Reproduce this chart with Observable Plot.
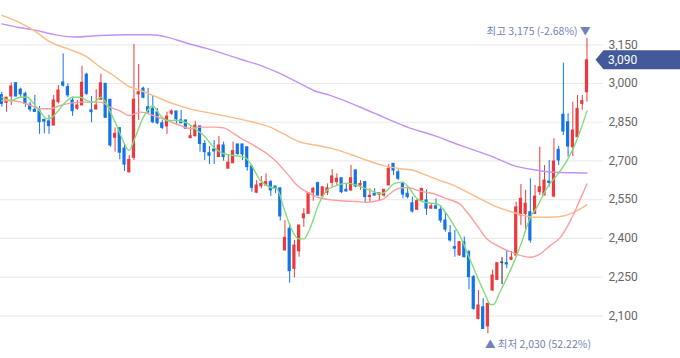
<!DOCTYPE html>
<html><head><meta charset="utf-8">
<script src="https://cdn.jsdelivr.net/npm/d3@7"></script>
<script src="https://cdn.jsdelivr.net/npm/@observablehq/plot@0.6"></script>
<style>
html,body{margin:0;padding:0;background:#fff;}
#chart svg{display:block;}
</style></head><body><div id="chart"></div>
<script>
// Daily candles (index, open, high, low, close)
const opens  = [2955,2925,2950,3001,2976,2960,2918,2898,2893,2859,2853,2837,2928,3004,2986,2934,2902,2915,3034,2896,2899,2937,2999,2937,2790,2827,2748,2656,2712,2958,2980,2908,2902,2888,2846,2834,2883,2892,2857,2857,2788,2796,2834,2766,2730,2744,2715,2760,2670,2691,2764,2764,2753,2679,2577,2602,2605,2618,2601,2594,2353,2437,2282,2350,2478,2495,2577,2614,2563,2577,2615,2618,2633,2588,2586,2663,2605,2618,2560,2573,2569,2566,2605,2689,2656,2611,2573,2536,2511,2547,2547,2515,2524,2511,2469,2420,2366,2334,2385,2346,2250,2088,2133,2059,2198,2239,2306,2304,2317,2334,2489,2495,2501,2495,2579,2566,2620,2562,2743,2879,2850,2753,2792,2921,2966];
const highs  = [2966,2947,3003,3004,2982,2966,2927,2954,2911,2862,2876,2954,2992,3115,2999,2947,2934,3067,3040,2950,2976,3036,2999,2937,2828,2827,2768,2721,3151,3074,2986,2981,2951,2903,2857,2889,2898,2892,2896,2857,2831,2854,2834,2779,2756,2779,2795,2773,2724,2773,2764,2764,2753,2679,2624,2640,2650,2624,2601,2594,2469,2456,2392,2450,2515,2575,2598,2618,2598,2611,2666,2650,2633,2611,2682,2666,2624,2621,2592,2593,2575,2588,2686,2689,2666,2618,2598,2560,2553,2592,2588,2534,2553,2527,2501,2450,2431,2388,2405,2353,2256,2198,2166,2149,2276,2304,2325,2353,2349,2540,2609,2586,2631,2605,2753,2682,2702,2786,2756,3079,2883,2928,2954,2954,3175];
const lows   = [2908,2889,2915,2947,2947,2908,2889,2889,2803,2805,2803,2837,2921,2986,2945,2873,2896,2915,2954,2848,2899,2937,2867,2753,2734,2704,2659,2653,2702,2857,2941,2880,2844,2841,2821,2803,2876,2837,2844,2825,2788,2792,2734,2702,2686,2686,2715,2699,2670,2690,2721,2702,2660,2579,2573,2592,2605,2563,2573,2467,2353,2226,2247,2327,2443,2493,2544,2563,2562,2566,2598,2605,2573,2579,2582,2596,2586,2539,2542,2563,2542,2560,2605,2644,2624,2553,2553,2498,2508,2544,2489,2513,2512,2459,2424,2385,2327,2330,2325,2201,2121,2084,2049,2030,2194,2239,2221,2282,2314,2330,2450,2428,2381,2493,2566,2566,2598,2557,2682,2799,2715,2717,2788,2896,2928];
const closes = [2921,2945,2989,2950,2958,2921,2899,2890,2850,2852,2835,2934,2973,2992,2954,2893,2915,3003,2960,2889,2915,3001,2867,2760,2805,2732,2686,2704,2937,2966,2945,2889,2850,2846,2828,2872,2892,2861,2846,2825,2796,2837,2766,2734,2720,2737,2760,2715,2693,2738,2727,2725,2676,2596,2605,2611,2618,2586,2592,2485,2402,2273,2372,2450,2493,2575,2592,2566,2598,2594,2640,2631,2579,2582,2633,2601,2611,2560,2565,2566,2575,2588,2670,2663,2631,2570,2560,2504,2544,2592,2515,2524,2515,2469,2434,2392,2360,2385,2327,2250,2127,2140,2049,2146,2256,2304,2306,2299,2325,2520,2553,2534,2392,2562,2598,2624,2615,2698,2702,2814,2756,2818,2902,2932,3090];

// Moving averages: [candle index, value]
const ma5   = [[0,2947],[1.8,2934],[4,2947],[5.4,2947],[6.7,2923],[8.2,2889],[9.6,2863],[10.7,2870],[12,2896],[13.5,2928],[15,2947],[16.7,2947],[18,2934],[19.5,2928],[21,2947],[22,2928],[23,2889],[24.5,2831],[25.5,2786],[27,2741],[28,2779],[30,2870],[32,2914],[33.6,2876],[35,2857],[37.2,2857],[39.3,2847],[41.4,2818],[42.8,2799],[44.9,2753],[47,2728],[49.2,2721],[51.6,2713],[52.7,2689],[54.8,2624],[56.9,2598],[58.3,2592],[59.7,2521],[61.2,2443],[62.9,2398],[64,2398],[65.4,2443],[67.2,2534],[68.9,2586],[71,2605],[73.2,2614],[75.3,2605],[76.7,2596],[78.1,2586],[80.2,2573],[81.7,2586],[83,2611],[84.8,2618],[86.2,2598],[88,2553],[90.1,2538],[92.2,2534],[94,2501],[95.8,2450],[97.2,2405],[99.3,2314],[101.1,2237],[102.5,2179],[103.5,2144],[104.2,2144],[105.7,2198],[107.1,2250],[108.5,2307],[109.9,2372],[112,2481],[113.4,2521],[115.6,2598],[117.3,2637],[118.4,2663],[119.8,2702],[121.2,2753],[122.6,2818],[124,2893]];
const ma20  = [[0,2934],[1.8,2934],[4,2928],[6.1,2915],[8.2,2902],[10.3,2902],[12.4,2915],[14.6,2924],[16.7,2928],[18.8,2928],[20.9,2928],[23,2908],[25.1,2893],[26.9,2876],[29.4,2889],[32.1,2876],[35,2857],[37.9,2837],[40,2825],[42.1,2831],[44.9,2831],[47,2828],[49.2,2805],[50.6,2789],[53.4,2760],[56.2,2728],[58.3,2695],[60.5,2650],[62.6,2605],[64.7,2579],[66.8,2560],[69,2551],[71.1,2547],[73.2,2544],[75.3,2543],[77.1,2540],[78.8,2543],[80.9,2553],[82.4,2575],[83.8,2592],[85.9,2597],[88.7,2583],[91.5,2573],[94.4,2553],[97.2,2531],[98.6,2501],[100.7,2450],[102.8,2398],[105,2372],[107.1,2353],[109.9,2334],[112,2327],[114.1,2340],[116.2,2372],[118.4,2405],[120.5,2469],[122.6,2553],[124,2611]];
const ma60  = [[0,3264],[4,3234],[6.8,3206],[10.3,3160],[13.9,3135],[18.1,3102],[20.9,3063],[23.7,3031],[26.6,2992],[29.4,2973],[32.9,2947],[36.4,2921],[40.7,2898],[44.9,2883],[49.2,2867],[53.4,2850],[56.9,2831],[59.7,2805],[63.3,2773],[66.8,2760],[70.3,2747],[73.9,2725],[77.4,2702],[80.9,2682],[84.5,2670],[87.3,2663],[90.1,2644],[92.9,2624],[95.8,2605],[98.6,2579],[101.4,2553],[104.2,2527],[107.1,2508],[109.9,2493],[112.7,2482],[115.6,2482],[118.4,2485],[121.2,2501],[124,2530]];
const ma120 = [[0,3231],[3.3,3218],[6.8,3208],[10.3,3193],[15.3,3180],[20.9,3186],[26.6,3189],[31.5,3189],[35,3180],[39.3,3156],[43.5,3135],[47.8,3111],[50.6,3094],[54.8,3070],[59,3038],[63.3,2999],[66.1,2973],[69.6,2954],[76,2908],[81.7,2863],[85.9,2831],[91.5,2799],[97.2,2760],[104.2,2715],[108.5,2682],[112.7,2666],[116.9,2656],[121.2,2654],[124,2653]];

const yTicks = [2100, 2250, 2400, 2550, 2700, 2850, 3000, 3150];
const highLabel = "최고 3,175 (-2.68%) ▼";
const lowLabel  = "▲ 최저 2,030 (52.22%)";

const candles = opens.map((o, i) => ({i, o, h: highs[i], l: lows[i], c: closes[i]}));
const colorOf = d => d.c > d.o ? "#ea3a3d" : d.c < d.o ? "#1473e6" : "#222222";
const pts = arr => arr.map(([i, v]) => ({i, v}));

const hiIdx = highs.indexOf(d3.max(highs));
const loIdx = lows.indexOf(d3.min(lows));

const plot = Plot.plot({
  width: 680, height: 358,
  marginLeft: 0, marginRight: 77, marginTop: 0, marginBottom: 0,
  style: {fontFamily: "Roboto, 'Noto Sans CJK KR', sans-serif", background: "#ffffff"},
  x: {domain: [-0.28, 127.5], axis: null},
  y: {domain: [1934.5, 3321.7], axis: null},
  marks: [
    Plot.gridY(yTicks, {stroke: "#ececec", strokeOpacity: 1, strokeWidth: 1.2}),
    Plot.axisY(yTicks, {anchor: "right", tickSize: 0, tickPadding: 5, tickFormat: d3.format(","), fontSize: 12, fill: "#666666"}),
    Plot.ruleX(candles, {x: "i", y1: "l", y2: "h", stroke: colorOf, strokeWidth: 1}),
    Plot.rect(candles, {x1: d => d.i - 0.34, x2: d => d.i + 0.34, y1: "o", y2: "c", fill: colorOf, insetTop: -0.5, insetBottom: -0.5}),
    Plot.line(pts(ma120), {x: "i", y: "v", stroke: "#c491f7", strokeWidth: 1.4, curve: "monotone-x"}),
    Plot.line(pts(ma60), {x: "i", y: "v", stroke: "#fdbb88", strokeWidth: 1.4, curve: "monotone-x"}),
    Plot.line(pts(ma20), {x: "i", y: "v", stroke: "#fb9f9f", strokeWidth: 1.4, curve: "monotone-x"}),
    Plot.line(pts(ma5), {x: "i", y: "v", stroke: "#82dc7b", strokeWidth: 1.4, curve: "monotone-x"}),
    Plot.text([{i: hiIdx, v: highs[hiIdx]}], {x: "i", y: "v", text: () => highLabel, textAnchor: "end", dx: 3.5, dy: -7, fontSize: 10.5, fill: "#7282b6", fontFamily: "'Noto Sans CJK KR', sans-serif"}),
    Plot.text([{i: loIdx, v: lows[loIdx]}], {x: "i", y: "v", text: () => lowLabel, textAnchor: "start", dx: -3, dy: 10.5, fontSize: 10.5, fill: "#7282b6", fontFamily: "'Noto Sans CJK KR', sans-serif"})
  ]
});

document.getElementById("chart").appendChild(plot);

// Current price tag
const last = closes[closes.length - 1];
const yc = plot.scale("y").apply(last);
const xTip = plot.scale("x").apply(closes.length - 1) + 9;
const svg = d3.select(plot);
const tag = svg.append("g");
tag.append("path")
  .attr("d", `M${xTip},${yc} L${xTip + 8},${yc - 9.5} H680 V${yc + 9.5} H${xTip + 8} Z`)
  .attr("fill", "#43599a");
tag.append("text")
  .attr("x", 608).attr("y", yc).attr("dy", "0.35em")
  .attr("text-anchor", "start")
  .attr("fill", "#ffffff").attr("font-size", 12)
  .attr("font-family", "Roboto, sans-serif")
  .text(d3.format(",")(last));
</script>
</body></html>
